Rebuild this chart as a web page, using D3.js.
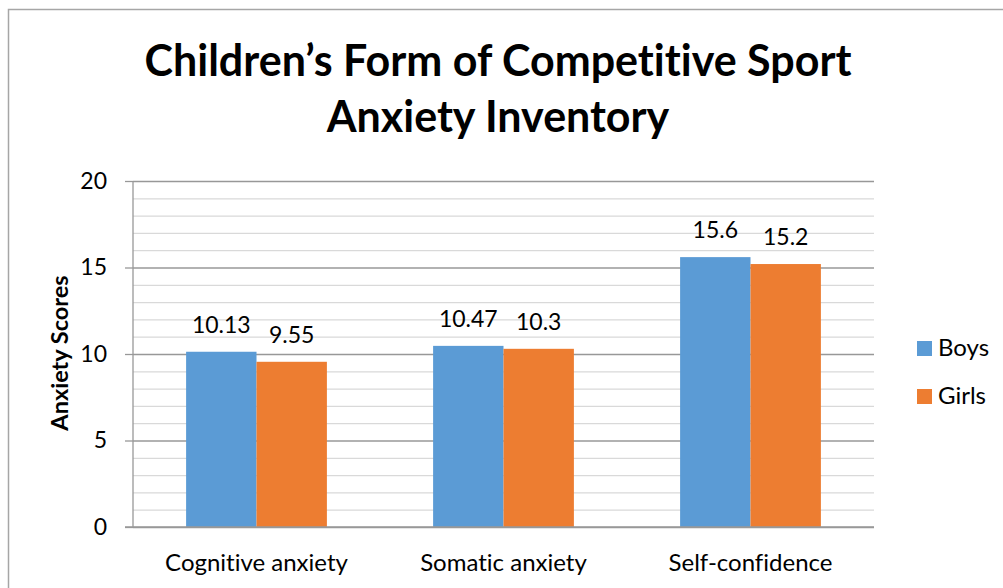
<!DOCTYPE html>
<html>
<head>
<meta charset="utf-8">
<script src="https://cdn.jsdelivr.net/npm/d3@7"></script>
<style>
  html, body { margin: 0; padding: 0; background: #fff; }
  svg { display: block; font-family: Lato, "Open Sans", sans-serif; font-variant-ligatures: none; }
</style>
</head>
<body>
<svg id="chart"></svg>
<script>
const categories = ["Cognitive anxiety", "Somatic anxiety", "Self-confidence"];
const seriesNames = ["Boys", "Girls"];
const boys = [10.13, 10.47, 15.6];
const girls = [9.55, 10.3, 15.2];
const yTicks = [0, 5, 10, 15, 20];
const titleLines = ["Children\u2019s Form of Competitive Sport", "Anxiety Inventory"];
const colors = ["#5B9BD5", "#ED7D31"];

const W = 1003, H = 588;
const plot = { left: 133, right: 874, top: 181, bottom: 527 };

const svg = d3.select("#chart").attr("width", W).attr("height", H);

// chart border (cut by the frame on right/bottom)
svg.append("rect")
  .attr("x", 8.5).attr("y", 9.5)
  .attr("width", W).attr("height", H)
  .attr("fill", "none")
  .attr("stroke", "#a6a6a6")
  .attr("stroke-width", 1.5);

const x0 = d3.scaleBand().domain(categories).range([plot.left, plot.right]).paddingInner(0.43).paddingOuter(0.215);
const x1 = d3.scaleBand().domain(seriesNames).range([0, x0.bandwidth()]);
const y = d3.scaleLinear().domain([0, 20]).range([plot.bottom, plot.top]);

// minor gridlines
const g = svg.append("g");
g.selectAll("line.minor")
  .data(d3.range(1, 21).filter((v) => v % 5 !== 0))
  .enter().append("line")
  .attr("x1", plot.left).attr("x2", plot.right)
  .attr("y1", (d) => y(d) + 0.5).attr("y2", (d) => y(d) + 0.5)
  .attr("stroke", "#d9d9d9").attr("stroke-width", 1.3);

// major gridlines and y axis
const yAxis = svg.append("g")
  .attr("transform", `translate(${plot.left},0)`)
  .call(d3.axisLeft(y).tickValues(yTicks).tickSize(8).tickPadding(18))
  .call((a) => a.select(".domain").remove());
yAxis.selectAll(".tick line").attr("stroke", "#989898").attr("stroke-width", 1.3);
yAxis.selectAll(".tick").append("line")
  .attr("x1", 0).attr("x2", plot.right - plot.left)
  .attr("stroke", "#989898").attr("stroke-width", 1.3);
yAxis.selectAll(".tick text")
  .attr("fill", "#000").style("font-size", "23px").style("font-family", "Lato, sans-serif");
yAxis.append("line")
  .attr("x1", 0).attr("x2", 0).attr("y1", plot.top).attr("y2", plot.bottom)
  .attr("stroke", "#989898").attr("stroke-width", 1.3);

// bars
const rows = categories.map((c, i) => ({ cat: c, vals: [boys[i], girls[i]] }));
const groups = svg.selectAll("g.grp").data(rows).enter().append("g")
  .attr("class", "grp")
  .attr("transform", (d) => `translate(${x0(d.cat)},0)`);

groups.selectAll("rect")
  .data((d) => d.vals.map((v, j) => ({ name: seriesNames[j], v, j })))
  .enter().append("rect")
  .attr("x", (d) => x1(d.name))
  .attr("width", x1.bandwidth())
  .attr("y", (d) => y(d.v))
  .attr("height", (d) => y(0) - y(d.v))
  .attr("fill", (d) => colors[d.j]);

groups.selectAll("text")
  .data((d) => d.vals.map((v, j) => ({ name: seriesNames[j], v, j })))
  .enter().append("text")
  .attr("x", (d) => x1(d.name) + x1.bandwidth() / 2)
  .attr("y", (d) => y(d.v) - 19)
  .attr("text-anchor", "middle")
  .style("font-size", "23px")
  .text((d) => d.v);

// x axis line
svg.append("line")
  .attr("x1", plot.left - 8).attr("x2", plot.right)
  .attr("y1", plot.bottom).attr("y2", plot.bottom)
  .attr("stroke", "#989898").attr("stroke-width", 1.3);

svg.selectAll("text.cat")
  .data(categories)
  .enter().append("text")
  .attr("class", "cat")
  .attr("x", (d) => x0(d) + x0.bandwidth() / 2)
  .attr("y", 571)
  .attr("text-anchor", "middle")
  .style("font-size", "24px")
  .text((d) => d);

// y axis title
svg.append("text")
  .attr("transform", "translate(68,353) rotate(-90)")
  .attr("text-anchor", "middle")
  .style("font-size", "23.5px")
  .style("font-weight", "bold")
  .text("Anxiety Scores");

// title
svg.selectAll("text.title")
  .data(titleLines)
  .enter().append("text")
  .attr("class", "title")
  .attr("x", 498)
  .attr("y", (d, i) => 76 + i * 56)
  .attr("text-anchor", "middle")
  .style("font-size", "43px")
  .style("font-weight", "bold")
  .text((d) => d);

// legend
const legend = svg.selectAll("g.leg").data(seriesNames).enter().append("g")
  .attr("class", "leg")
  .attr("transform", (d, i) => `translate(917,${341 + i * 48})`);
legend.append("rect").attr("width", 15).attr("height", 15).attr("fill", (d, i) => colors[i]);
legend.append("text").attr("x", 21).attr("y", 15).style("font-size", "24px").text((d) => d);
</script>
</body>
</html>
